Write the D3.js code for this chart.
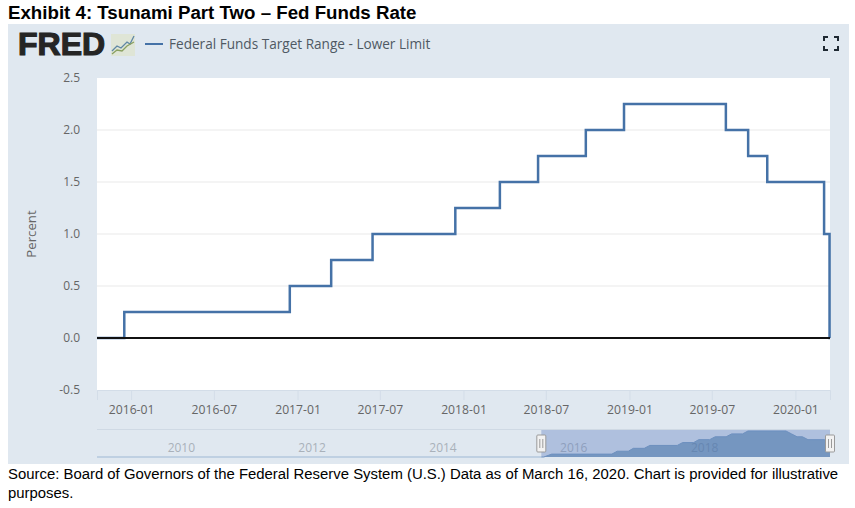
<!DOCTYPE html>
<html>
<head>
<meta charset="utf-8">
<script src="https://cdnjs.cloudflare.com/ajax/libs/d3/7.8.5/d3.min.js"></script>
<style>
  html, body { margin: 0; padding: 0; background: #fff; }
  svg { display: block; }
  text { font-family: "Open Sans", sans-serif; }
  .note { font-family: "Liberation Sans", Arial, sans-serif; fill: #000; }
</style>
</head>
<body>
<svg id="chart" width="855" height="508"></svg>
<script>
// step changes of the target rate
var stepDates = ["2015-10-18", "2015-12-17", "2016-12-15", "2017-03-16", "2017-06-15", "2017-12-14", "2018-03-22", "2018-06-14", "2018-09-27", "2018-12-20", "2019-08-01", "2019-09-19", "2019-10-31", "2020-03-04", "2020-03-16", "2020-03-17"];
var stepValues = [0, 0.25, 0.5, 0.75, 1, 1.25, 1.5, 1.75, 2, 2.25, 2, 1.75, 1.5, 1, 0, 0];

// monthly series in the navigator strip
var navDates = ["2009-01-01", "2015-11-01", "2015-12-15", "2016-11-15", "2016-12-15", "2017-02-15", "2017-03-15", "2017-05-15", "2017-06-15", "2017-11-15", "2017-12-15", "2018-02-15", "2018-03-15", "2018-05-15", "2018-06-15", "2018-08-15", "2018-09-15", "2018-11-15", "2018-12-15", "2019-07-15", "2019-08-15", "2019-09-15", "2019-10-15", "2019-11-15", "2020-02-15", "2020-03-17"];
var navValues = [0, 0, 0.25, 0.25, 0.5, 0.5, 0.75, 0.75, 1, 1, 1.25, 1.25, 1.5, 1.5, 1.75, 1.75, 2, 2, 2.25, 2.25, 2, 1.75, 1.75, 1.5, 1.5, 1.5];

var yTicks = [-0.5, 0, 0.5, 1, 1.5, 2, 2.5];
var xTicks = ["2016-01-01", "2016-07-01", "2017-01-01", "2017-07-01", "2018-01-01", "2018-07-01", "2019-01-01", "2019-07-01", "2020-01-01"];
var navTicks = ["2010-01-01", "2012-01-01", "2014-01-01", "2016-01-01", "2018-01-01"];

var parse = d3.utcParse("%Y-%m-%d");
var svg = d3.select("#chart");

var plotLeft = 97, plotRight = 830, plotTop = 78, plotBottom = 390;
var navTop = 431, navBottom = 457;

var x = d3.scaleUtc()
  .domain([parse("2015-10-18"), parse("2020-03-17")])
  .range([plotLeft, plotRight]);
var y = d3.scaleLinear()
  .domain([-0.5, 2.5])
  .range([plotBottom, plotTop]);
var navX = d3.scaleUtc()
  .domain([parse("2009-01-01"), parse("2020-03-17")])
  .range([plotLeft, plotRight]);
var navY = d3.scaleLinear()
  .domain([0, 2.25])
  .range([navBottom, navTop]);

var steps = stepDates.map((d, i) => ({ date: parse(d), value: stepValues[i] }));
var navData = navDates.map((d, i) => ({ date: parse(d), value: navValues[i] }));

// title
svg.append("text")
  .attr("class", "note")
  .attr("x", 8)
  .attr("y", 19)
  .attr("font-size", 18.7)
  .attr("font-weight", "bold")
  .text("Exhibit 4: Tsunami Part Two \u2013 Fed Funds Rate");

// panel + plot background
svg.append("rect")
  .attr("x", 8).attr("y", 24)
  .attr("width", 841).attr("height", 440)
  .attr("fill", "#e0e8f0");
svg.append("rect")
  .attr("x", plotLeft).attr("y", plotTop)
  .attr("width", plotRight - plotLeft).attr("height", plotBottom - plotTop)
  .attr("fill", "#fff");

// logo
var logo = svg.append("g");
logo.append("text")
  .attr("x", 18)
  .attr("y", 55)
  .attr("font-size", 32)
  .attr("font-weight", "bold")
  .style("font-family", "'Liberation Sans', Arial, sans-serif")
  .attr("stroke", "#252525")
  .attr("stroke-width", 1.2)
  .attr("fill", "#252525")
  .text("FRED");
logo.append("rect")
  .attr("x", 111).attr("y", 34)
  .attr("width", 24).attr("height", 22)
  .attr("fill", "#dfe5d6");
logo.append("path")
  .attr("d", "M112,51 L117,46 L121,48 L127,42 L130,44 L134,36")
  .attr("fill", "none").attr("stroke", "#5f87a5").attr("stroke-width", 1.3);
logo.append("path")
  .attr("d", "M112,54 L117,50 L122,51 L127,46 L134,42")
  .attr("fill", "none").attr("stroke", "#8aa060").attr("stroke-width", 1.3);

// legend
svg.append("line")
  .attr("x1", 145).attr("x2", 163)
  .attr("y1", 44).attr("y2", 44)
  .attr("stroke", "#4572a7").attr("stroke-width", 2);
svg.append("text")
  .attr("x", 169)
  .attr("y", 49)
  .attr("font-size", 13.6)
  .attr("fill", "#4f5963")
  .text("Federal Funds Target Range - Lower Limit");

// fullscreen corners
[[824, 37, 1, 1], [838, 37, -1, 1], [824, 50, 1, -1], [838, 50, -1, -1]].forEach(function(c) {
  svg.append("path")
    .attr("d", "M" + c[0] + "," + (c[1] + 4 * c[3]) + " V" + c[1] + " H" + (c[0] + 4 * c[2]))
    .attr("fill", "none")
    .attr("stroke", "#1f2933")
    .attr("stroke-width", 2);
});

// y axis + gridlines
var yAxis = svg.append("g")
  .attr("transform", "translate(" + plotLeft + ",0)")
  .call(d3.axisLeft(y).tickValues(yTicks).tickFormat(d => d.toFixed(1)).tickSize(0).tickPadding(17));
yAxis.select(".domain").remove();
yAxis.selectAll("text")
  .attr("font-size", 12)
  .attr("font-family", "'Open Sans', sans-serif")
  .attr("fill", "#666");

svg.append("g")
  .selectAll("line")
  .data(yTicks.filter(d => d !== -0.5 && d !== 2.5 && d !== 0))
  .enter()
  .append("line")
  .attr("x1", plotLeft).attr("x2", plotRight)
  .attr("y1", d => y(d)).attr("y2", d => y(d))
  .attr("stroke", "#e9e9e9");

svg.append("text")
  .attr("transform", "translate(36,234) rotate(-90)")
  .attr("text-anchor", "middle")
  .attr("font-size", 13.2)
  .attr("fill", "#666")
  .text("Percent");

// x axis
var xAxis = svg.append("g")
  .attr("transform", "translate(0," + plotBottom + ")")
  .call(d3.axisBottom(x).tickValues(xTicks.map(parse)).tickFormat(d3.utcFormat("%Y-%m")).tickSize(10).tickPadding(5));
xAxis.select(".domain").attr("stroke", "#d3dde8");
xAxis.selectAll(".tick line").attr("stroke", "#d3dde8");
xAxis.selectAll("text")
  .attr("font-size", 12.2)
  .attr("font-family", "'Open Sans', sans-serif")
  .attr("fill", "#666");

// series first, the black zero line runs over it
var line = d3.line()
  .x(d => x(d.date))
  .y(d => y(d.value))
  .curve(d3.curveStepAfter);

svg.append("path")
  .datum(steps)
  .attr("d", line)
  .attr("fill", "none")
  .attr("stroke", "#4572a7")
  .attr("stroke-width", 2.5);

svg.append("line")
  .attr("x1", plotLeft).attr("x2", plotRight)
  .attr("y1", y(0)).attr("y2", y(0))
  .attr("stroke", "#111")
  .attr("stroke-width", 2);

// navigator
svg.append("line")
  .attr("x1", plotLeft).attr("x2", plotRight)
  .attr("y1", 429.5).attr("y2", 429.5)
  .attr("stroke", "#cfd9e4");

svg.append("g")
  .selectAll("text")
  .data(navTicks)
  .enter()
  .append("text")
  .attr("x", d => navX(parse(d)) + 19)
  .attr("y", 452)
  .attr("text-anchor", "middle")
  .attr("font-size", 12)
  .attr("fill", "#a9b1ba")
  .text(d => d.slice(0, 4));

var selStart = navX(parse("2015-10-18")), selEnd = navX(parse("2020-03-17"));

svg.append("rect")
  .attr("x", selStart).attr("y", 430)
  .attr("width", selEnd - selStart).attr("height", navBottom - 430)
  .attr("fill", "#6685c2")
  .attr("fill-opacity", 0.4);

svg.append("path")
  .datum(navData)
  .attr("d", d3.area().x(d => navX(d.date)).y0(navBottom).y1(d => navY(d.value)))
  .attr("fill", "#4572a7")
  .attr("fill-opacity", 0.55);

svg.append("path")
  .datum(navData)
  .attr("d", d3.line().x(d => navX(d.date)).y(d => navY(d.value)))
  .attr("fill", "none")
  .attr("stroke", "#6d90bf")
  .attr("stroke-width", 1);

svg.append("line")
  .attr("x1", plotLeft).attr("x2", selStart)
  .attr("y1", navBottom).attr("y2", navBottom)
  .attr("stroke", "#bfd0e2")
  .attr("stroke-width", 2);

[selStart, selEnd].forEach(function(hx) {
  svg.append("rect")
    .attr("x", hx - 4.5).attr("y", 435)
    .attr("width", 9).attr("height", 17)
    .attr("rx", 1)
    .attr("fill", "#f2f2f2")
    .attr("stroke", "#9a9a9a");
  [-1.5, 1.5].forEach(function(o) {
    svg.append("line")
      .attr("x1", hx + o).attr("x2", hx + o)
      .attr("y1", 439).attr("y2", 448)
      .attr("stroke", "#9a9a9a");
  });
});

// source note
var sourceLines = [
  "Source: Board of Governors of the Federal Reserve System (U.S.) Data as of March 16, 2020. Chart is provided for illustrative",
  "purposes."
];
svg.append("g")
  .selectAll("text")
  .data(sourceLines)
  .enter()
  .append("text")
  .attr("class", "note")
  .attr("x", 8)
  .attr("y", (d, i) => 479 + i * 19)
  .attr("font-size", 14.9)
  .text(d => d);
</script>
</body>
</html>
